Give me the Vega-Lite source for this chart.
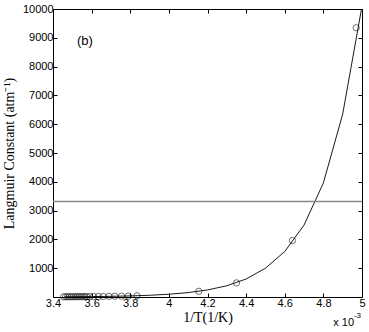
{
  "$schema": "https://vega.github.io/schema/vega-lite/v6.json",
  "width": 309,
  "height": 288,
  "autosize": {"type": "none"},
  "padding": {"left": 53, "top": 9, "right": 7, "bottom": 35},
  "background": "white",
  "config": {
    "view": {"stroke": "black", "strokeWidth": 1},
    "axis": {"grid": false, "domain": false, "tickColor": "black", "tickSize": -4, "tickWidth": 1,
      "labelFont": "Liberation Sans", "labelFontSize": 11, "labelColor": "black", "labelPadding": 4,
      "labelOverlap": false, "labelFlush": false,
      "titleFont": "Liberation Serif", "titleFontSize": 14, "titleFontWeight": "normal", "titleColor": "black"}
  },
  "resolve": {"axis": {"x": "independent", "y": "independent"}},
  "datasets": {
    "curve": [
      {"x": 3.46, "y": 7.5}, {"x": 3.5, "y": 9}, {"x": 3.6, "y": 14}, {"x": 3.7, "y": 23}, {"x": 3.8, "y": 37},
      {"x": 3.9, "y": 60}, {"x": 4.0, "y": 96}, {"x": 4.1, "y": 153}, {"x": 4.2, "y": 245}, {"x": 4.3, "y": 390},
      {"x": 4.4, "y": 625}, {"x": 4.5, "y": 1000}, {"x": 4.6, "y": 1580}, {"x": 4.7, "y": 2500},
      {"x": 4.8, "y": 3960}, {"x": 4.9, "y": 6350}, {"x": 5.0, "y": 10100}
    ],
    "pts": [
      {"x": 3.455, "y": 7}, {"x": 3.465, "y": 7}, {"x": 3.475, "y": 8}, {"x": 3.485, "y": 8}, {"x": 3.495, "y": 9},
      {"x": 3.505, "y": 9}, {"x": 3.515, "y": 10}, {"x": 3.525, "y": 10}, {"x": 3.535, "y": 11}, {"x": 3.545, "y": 11},
      {"x": 3.555, "y": 12}, {"x": 3.565, "y": 12}, {"x": 3.575, "y": 13}, {"x": 3.59, "y": 14}, {"x": 3.61, "y": 15},
      {"x": 3.635, "y": 17}, {"x": 3.66, "y": 19}, {"x": 3.69, "y": 22}, {"x": 3.72, "y": 25}, {"x": 3.755, "y": 29},
      {"x": 3.79, "y": 35}, {"x": 3.835, "y": 43}, {"x": 4.155, "y": 198}, {"x": 4.35, "y": 490},
      {"x": 4.64, "y": 1960}, {"x": 4.97, "y": 9350}
    ]
  },
  "layer": [
    {
      "data": {"name": "curve"},
      "mark": {"type": "line", "color": "black", "strokeWidth": 0.9, "clip": true},
      "encoding": {
        "x": {"field": "x", "type": "quantitative", "scale": {"domain": [3.4, 5], "nice": false, "zero": false},
          "axis": {"values": [3.4, 3.6, 3.8, 4, 4.2, 4.4, 4.6, 4.8, 5], "labelExpr": "format(datum.value, '~g')", "title": "1/T(1/K)", "titlePadding": 2}},
        "y": {"field": "y", "type": "quantitative", "scale": {"domain": [0, 10000], "nice": false},
          "axis": {"values": [1000, 2000, 3000, 4000, 5000, 6000, 7000, 8000, 9000, 10000], "format": "d", "title": "Langmuir Constant (atm⁻¹)", "titlePadding": 6}}
      }
    },
    {
      "data": {"name": "pts"},
      "mark": {"type": "point", "shape": "circle", "filled": false, "color": "black", "size": 40, "strokeWidth": 0.8},
      "encoding": {
        "x": {"field": "x", "type": "quantitative",
          "axis": {"orient": "top", "values": [3.4, 3.6, 3.8, 4, 4.2, 4.4, 4.6, 4.8, 5], "labels": false, "title": null}},
        "y": {"field": "y", "type": "quantitative",
          "axis": {"orient": "right", "values": [1000, 2000, 3000, 4000, 5000, 6000, 7000, 8000, 9000, 10000], "labels": false, "title": null}}
      }
    },
    {
      "data": {"values": [{"y": 3320}]},
      "mark": {"type": "rule", "color": "#888888", "strokeWidth": 1.5},
      "encoding": {"y": {"field": "y", "type": "quantitative", "axis": null}}
    },
    {
      "data": {"values": [{"x": 3.565, "y": 8900, "t": "(b)"}]},
      "mark": {"type": "text", "font": "Liberation Sans", "fontSize": 13, "color": "black"},
      "encoding": {
        "x": {"field": "x", "type": "quantitative", "axis": null},
        "y": {"field": "y", "type": "quantitative", "axis": null},
        "text": {"field": "t"}
      }
    },
    {
      "data": {"values": [{"x": 4.905, "y": -900, "t": "x 10"}]},
      "mark": {"type": "text", "font": "Liberation Sans", "fontSize": 11, "color": "black", "clip": false},
      "encoding": {
        "x": {"field": "x", "type": "quantitative", "axis": null},
        "y": {"field": "y", "type": "quantitative", "axis": null},
        "text": {"field": "t"}
      }
    },
    {
      "data": {"values": [{"x": 4.958, "y": -660, "t": "-3"}]},
      "mark": {"type": "text", "font": "Liberation Sans", "fontSize": 8, "color": "black", "clip": false, "align": "left"},
      "encoding": {
        "x": {"field": "x", "type": "quantitative", "axis": null},
        "y": {"field": "y", "type": "quantitative", "axis": null},
        "text": {"field": "t"}
      }
    }
  ]
}
